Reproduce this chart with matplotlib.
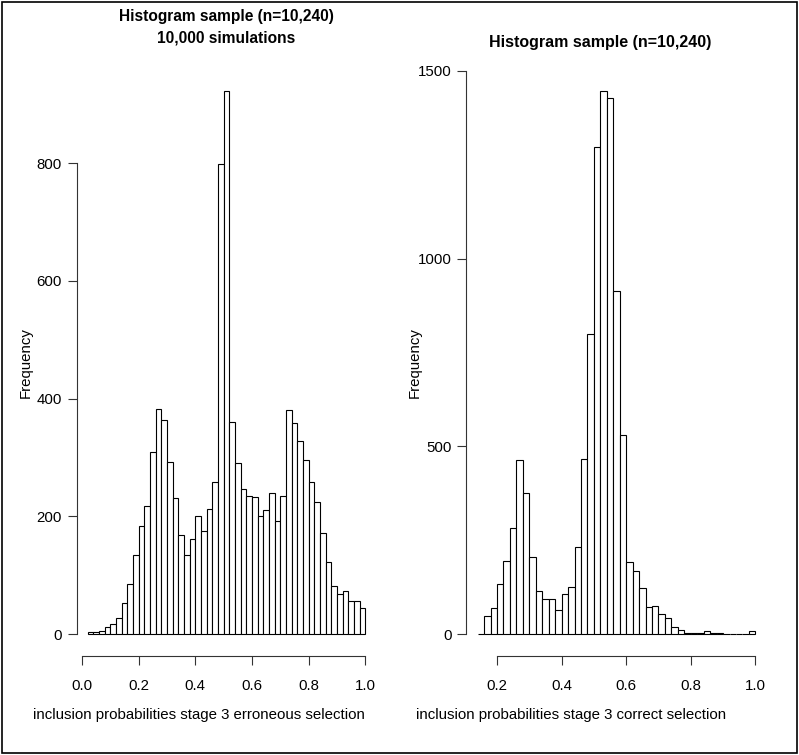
import numpy as np
import matplotlib
matplotlib.use("Agg")
import matplotlib.pyplot as plt
from matplotlib.patches import Rectangle

plt.rcParams["font.family"] = ["Liberation Sans", "DejaVu Sans"]

# ======================================================
# DATA (bin counts, bin width 0.02)
# ======================================================

err_start = 0.02
err_counts = [
    3, 4, 5, 13, 17, 27, 53, 86, 135, 183,
    218, 309, 382, 364, 292, 232, 168, 135, 161, 201,
    175, 213, 259, 798, 923, 361, 291, 246, 235, 233,
    200, 211, 240, 193, 234, 381, 359, 328, 296, 258,
    224, 172, 122, 82, 69, 74, 56, 57, 44,
]

cor_start = 0.14
cor_counts = [
    2, 49, 71, 133, 194, 284, 463, 375, 206, 116,
    93, 95, 64, 107, 126, 231, 466, 800, 1298, 1447,
    1429, 914, 530, 193, 168, 124, 72, 75, 53, 43,
    19, 11, 3, 3, 3, 10, 4, 4, 2, 1,
    1, 1, 10,
]

bin_width = 0.02

err_xticks = [0.0, 0.2, 0.4, 0.6, 0.8, 1.0]
err_yticks = [0, 200, 400, 600, 800]
cor_xticks = [0.2, 0.4, 0.6, 0.8, 1.0]
cor_yticks = [0, 500, 1000, 1500]

title_main = "Histogram sample (n=10,240)"
title_sub = "10,000 simulations"
xlabel_err = "inclusion probabilities stage 3 erroneous selection"
xlabel_cor = "inclusion probabilities stage 3 correct selection"

# ======================================================
# FIGURE
# ======================================================

W, H = 799, 755
fig = plt.figure(figsize=(W / 100, H / 100), dpi=100)

FS = 10.8


def px_axes(x0, y0, x1, y1):
    # pixel box (top-left origin) -> figure axes
    return fig.add_axes([x0 / W, 1 - y1 / H, (x1 - x0) / W, (y1 - y0) / H])


def r_hist(ax, start, counts, xticks, yticks, xlabel):
    counts = np.array(counts)
    edges = start + bin_width * np.arange(len(counts) + 1)
    ax.bar(edges[:-1], counts, width=bin_width, align="edge",
           facecolor="white", edgecolor="black", linewidth=0.8)

    xr = edges[-1] - edges[0]
    ax.set_xlim(edges[0] - 0.04 * xr, edges[-1] + 0.04 * xr)
    ymax = counts.max()
    ax.set_ylim(-0.04 * ymax, 1.04 * ymax)

    for s in ["top", "right"]:
        ax.spines[s].set_visible(False)
    ax.spines["left"].set_bounds(yticks[0], yticks[-1])
    ax.spines["bottom"].set_bounds(xticks[0], xticks[-1])
    for s in ["left", "bottom"]:
        ax.spines[s].set_linewidth(0.8)
        ax.spines[s].set_color("#333333")

    ax.set_xticks(xticks)
    ax.set_xticklabels([f"{t:.1f}" for t in xticks])
    ax.set_yticks(yticks)
    ax.set_yticklabels([str(t) for t in yticks])
    ax.tick_params(direction="out", length=6.5, width=0.8, labelsize=FS,
                   colors="#333333", labelcolor="black")
    ax.tick_params(axis="y", pad=4)
    ax.tick_params(axis="x", pad=10)
    ax.set_xlabel(xlabel, fontsize=FS)
    ax.set_ylabel("Frequency", fontsize=FS)
    ax.patch.set_alpha(0)


ax1 = px_axes(76.5, 69, 376.5, 656)
r_hist(ax1, err_start, err_counts, err_xticks, err_yticks, xlabel_err)
ax1.set_title(title_main + "\n" + title_sub, fontsize=11.2,
              fontweight="bold", pad=19, linespacing=1.55)
ax1.xaxis.set_label_coords(0.407, -0.088)
ax1.yaxis.set_label_coords(-0.145, 0.5)

ax2 = px_axes(466.5, 69, 766.5, 656)
r_hist(ax2, cor_start, cor_counts, cor_xticks, cor_yticks, xlabel_cor)
ax2.set_title(title_main, fontsize=11.5, fontweight="bold", x=0.445, pad=16)
ax2.xaxis.set_label_coords(0.348, -0.088)
ax2.yaxis.set_label_coords(-0.15, 0.5)

# outer frame
fig.patches.append(Rectangle((0.002, 0.002), 0.996, 0.996,
                             transform=fig.transFigure, fill=False,
                             edgecolor="black", linewidth=1.2))

plt.savefig("out.png", dpi=100)
